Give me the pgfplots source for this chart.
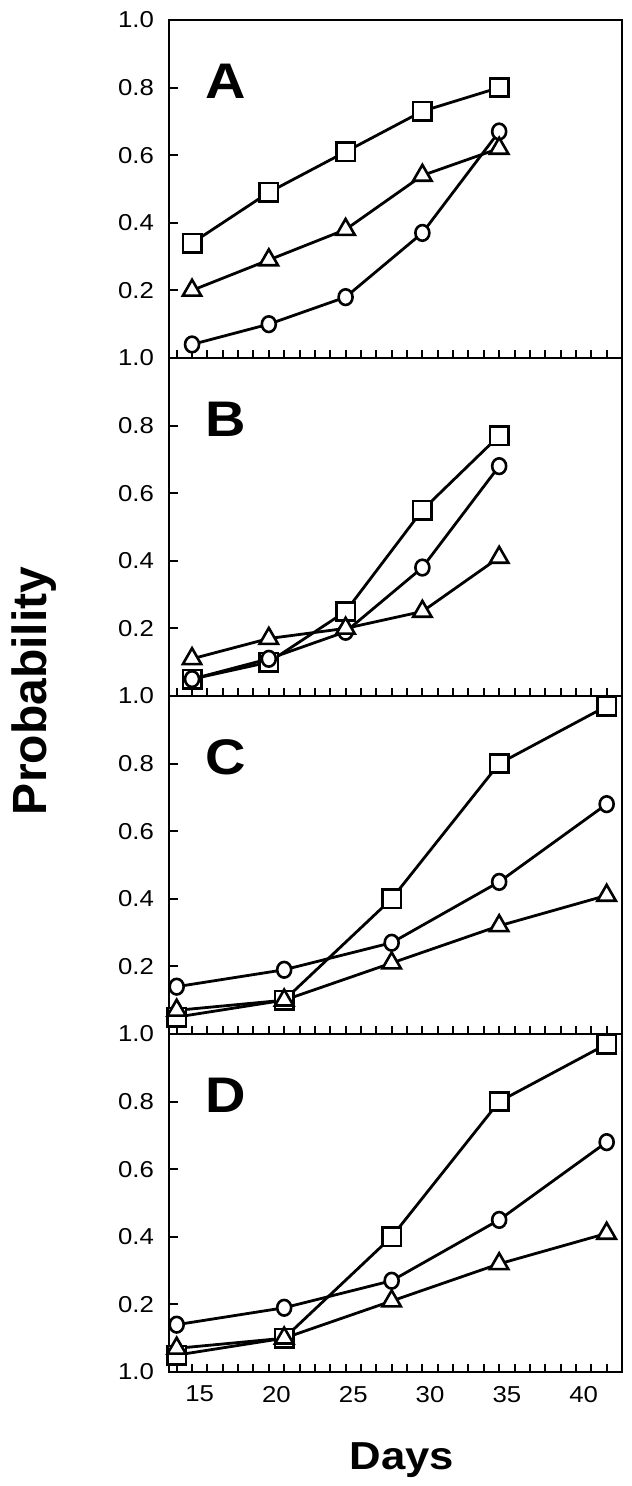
\documentclass[border=0pt]{standalone}
\usepackage{fontspec}
\setmainfont{Liberation Sans}[FakeStretch=1.12]
\newfontfamily\plainfont{Liberation Sans}
\usepackage{pgfplots}
\usepackage{pgfplotstable}
\pgfplotsset{compat=1.18}

% days, square, circle, triangle
\pgfplotstableread{
x    sq   ci   tr
14.5 0.34 0.04 0.20
19.5 0.49 0.10 0.29
24.5 0.61 0.18 0.38
29.5 0.73 0.37 0.54
34.5 0.80 0.67 0.62
}\panelA
\pgfplotstableread{
x    sq   ci   tr
14.5 0.05 0.05 0.11
19.5 0.10 0.11 0.17
24.5 0.25 0.19 0.20
29.5 0.55 0.38 0.25
34.5 0.77 0.68 0.41
}\panelB
\pgfplotstableread{
x    sq   ci   tr
13.5 0.05 0.14 0.07
20.5 0.10 0.19 0.10
27.5 0.40 0.27 0.21
34.5 0.80 0.45 0.32
41.5 0.97 0.68 0.41
}\panelC
\pgfplotstableread{
x    sq   ci   tr
13.5 0.05 0.14 0.07
20.5 0.10 0.19 0.10
27.5 0.40 0.27 0.21
34.5 0.80 0.45 0.32
41.5 0.97 0.68 0.41
}\panelD

\pgfplotsset{
  panel/.style={
    scale only axis, width=226.5pt, height=169pt,
    anchor=south west,
    xmin=13, xmax=42.5, ymin=0, ymax=1,
    axis line style={line width=1.2pt},
    xtick={15,20,...,40}, minor xtick={13.5,14.5,...,41.5},
    xtick pos=bottom, ytick pos=left,
    tick style={line width=1pt, black},
    major x tick style={draw=none},
    minor tick length=4pt, major tick length=4.5pt,
    ytick={0.2,0.4,0.6,0.8,1}, yticklabels={0.2,0.4,0.6,0.8,1.0},
    xticklabels={},
    tick label style={font=\fontsize{11.5}{13}\selectfont},
    yticklabel style={xshift=-4pt},
    xticklabel style={yshift=-3.5pt},
    clip=false,
  },
  ln/.style={line width=1.4pt, black},
  mk/.style={only marks},
}

\newcommand\series[1]{%
  \addplot[ln] table[x=x,y=sq]{#1};
  \addplot[ln] table[x=x,y=ci]{#1};
  \addplot[ln] table[x=x,y=tr]{#1};
  \addplot[mk, mark=square*, mark size=4.6pt,
    mark options={fill=white, line width=1.3pt, solid}] table[x=x,y=sq]{#1};
  \addplot[mk, mark=*, mark size=3.5pt,
    mark options={fill=white, line width=1.3pt, solid, yscale=1.12}] table[x=x,y=ci]{#1};
  \addplot[mk, mark=triangle*, mark size=5.3pt,
    mark options={fill=white, line width=1.3pt, solid}] table[x=x,y=tr]{#1};
}
\newcommand\letter[1]{\node[font=\fontsize{25}{25}\selectfont\bfseries] at (rel axis cs:0.125,0.82) {#1};}

\begin{document}
\begin{tikzpicture}
\path[use as bounding box] (0,0) rectangle (315.5pt,743pt);

\begin{axis}[panel, at={(84.5pt,564pt)}]
\series{\panelA}
\letter{A}
\end{axis}

\begin{axis}[panel, at={(84.5pt,395pt)}]
\series{\panelB}
\letter{B}
\end{axis}

\begin{axis}[panel, at={(84.5pt,226pt)}]
\series{\panelC}
\letter{C}
\end{axis}

\begin{axis}[panel, at={(84.5pt,57pt)},
  ytick={0,0.2,0.4,0.6,0.8,1}, yticklabels={1.0,0.2,0.4,0.6,0.8,1.0},
  xticklabels={15,20,25,30,35,40}]
\series{\panelD}
\letter{D}
\end{axis}

\node[rotate=90, font=\fontsize{24}{24}\plainfont\bfseries] at (17pt,397.5pt) {Probability};
\node[font=\fontsize{19.5}{20}\selectfont\bfseries] at (201pt,13pt) {Days};
\end{tikzpicture}
\end{document}
